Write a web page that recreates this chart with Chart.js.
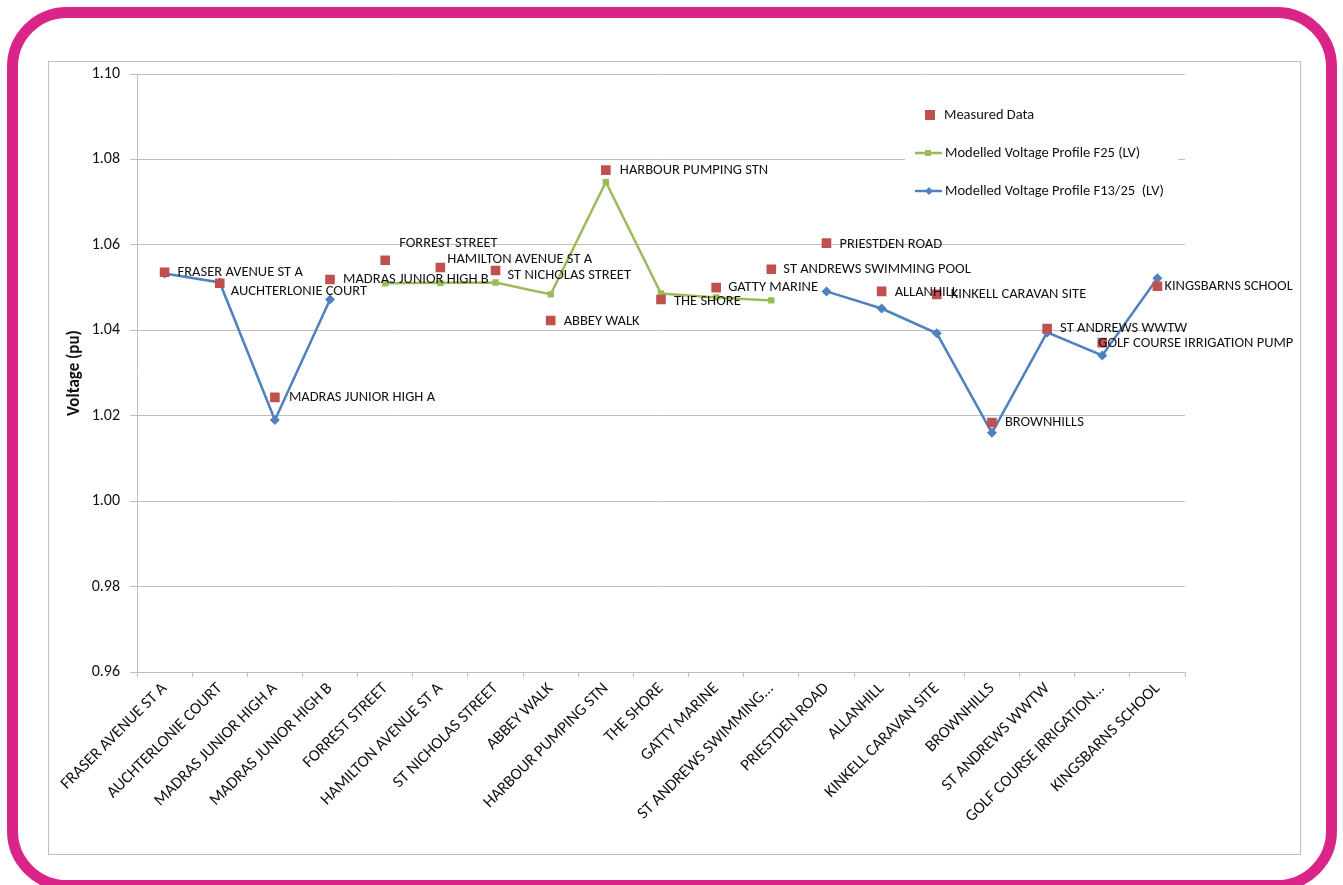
<!DOCTYPE html>
<html>
<head>
<meta charset="utf-8">
<script src="https://cdn.jsdelivr.net/npm/chart.js@4.4.1/dist/chart.umd.min.js"></script>
<style>
  html, body { margin: 0; padding: 0; background: #fff; }
  body { width: 1343px; height: 885px; position: relative; overflow: hidden; }
  #frame {
    position: absolute; left: 7px; top: 7px; width: 1308px; height: 862px;
    border: 11px solid #D9258A; border-radius: 60px;
  }
  #box {
    position: absolute; left: 48px; top: 61px; width: 1251px; height: 792px;
    border: 1px solid #BEBEBE;
  }
  #voltage-chart { position: absolute; left: 0; top: 0; }
</style>
</head>
<body>
<div id="frame"></div>
<div id="box"><canvas id="voltage-chart" width="1251" height="792"></canvas></div>
<script>
const sites = ["FRASER AVENUE ST A", "AUCHTERLONIE COURT", "MADRAS JUNIOR HIGH A", "MADRAS JUNIOR HIGH B",
  "FORREST STREET", "HAMILTON AVENUE ST A", "ST NICHOLAS STREET", "ABBEY WALK", "HARBOUR PUMPING STN",
  "THE SHORE", "GATTY MARINE", "ST ANDREWS SWIMMING POOL", "PRIESTDEN ROAD", "ALLANHILL",
  "KINKELL CARAVAN SITE", "BROWNHILLS", "ST ANDREWS WWTW", "GOLF COURSE IRRIGATION PUMP", "KINGSBARNS SCHOOL"];

// axis labels (excel cut the two long ones)
const tickLabels = ["FRASER AVENUE ST A", "AUCHTERLONIE COURT", "MADRAS JUNIOR HIGH A", "MADRAS JUNIOR HIGH B",
  "FORREST STREET", "HAMILTON AVENUE ST A", "ST NICHOLAS STREET", "ABBEY WALK", "HARBOUR PUMPING STN",
  "THE SHORE", "GATTY MARINE", "ST ANDREWS SWIMMING...", "PRIESTDEN ROAD", "ALLANHILL",
  "KINKELL CARAVAN SITE", "BROWNHILLS", "ST ANDREWS WWTW", "GOLF COURSE IRRIGATION...", "KINGSBARNS SCHOOL"];

const measured = [1.0536, 1.0510, 1.0243, 1.0519, 1.0564, 1.0547, 1.0540, 1.0423, 1.0775, 1.0472,
  1.0500, 1.0543, 1.0604, 1.0491, 1.0484, 1.0184, 1.0404, 1.0371, 1.0503];

const profileF25 = [null, null, null, null, 1.0510, 1.0511, 1.0512, 1.0484, 1.0747, 1.0486,
  1.0477, 1.0470, null, null, null, null, null, null, null];

const profileF13 = [1.0533, 1.0512, 1.0190, 1.0472, null, null, null, null, null, null,
  null, null, 1.0491, 1.0451, 1.0393, 1.0160, 1.0395, 1.0341, 1.0522];

const fontName = "Carlito, Lato, sans-serif";

// where each point label sits relative to its red square
const labelNudge = [[13, 0], [11, 8], [14, 0], [13, 0], [14, -17], [7, -8], [12, 5], [13, 1], [14, 0],
  [13, 2], [12, 0], [12, 0], [13, 1], [13, 1], [14, 0], [13, 0], [13, 0], [-4, 1], [7, 0]];

const pointNames = {
  id: "pointNames",
  afterDatasetsDraw(chart) {
    const ctx = chart.ctx;
    const meta = chart.getDatasetMeta(0);
    ctx.save();
    ctx.font = "14.5px " + fontName;
    ctx.fillStyle = "#111";
    ctx.textBaseline = "middle";
    ctx.textAlign = "left";
    meta.data.forEach((pt, i) => {
      ctx.fillText(sites[i], pt.x + labelNudge[i][0], pt.y + labelNudge[i][1]);
    });
    ctx.restore();
  }
};

const legendBox = {
  id: "legendBox",
  afterDraw(chart) {
    const ctx = chart.ctx;
    ctx.save();
    ctx.fillStyle = "#fff";
    ctx.fillRect(856, 36, 273, 114);
    ctx.font = "14.5px " + fontName;
    ctx.textBaseline = "middle";
    // measured
    ctx.fillStyle = "#C0504D";
    ctx.fillRect(876, 48, 10, 10);
    ctx.fillStyle = "#111";
    ctx.fillText("Measured Data", 895, 53);
    // F25
    ctx.strokeStyle = "#9BBB59";
    ctx.lineWidth = 2.5;
    ctx.beginPath(); ctx.moveTo(866, 91); ctx.lineTo(893, 91); ctx.stroke();
    ctx.fillStyle = "#9BBB59";
    ctx.fillRect(876, 88, 6, 6);
    ctx.fillStyle = "#111";
    ctx.fillText("Modelled Voltage Profile F25 (LV)", 896, 91);
    // F13/25
    ctx.strokeStyle = "#4F81BD";
    ctx.beginPath(); ctx.moveTo(866, 129); ctx.lineTo(893, 129); ctx.stroke();
    ctx.fillStyle = "#4F81BD";
    ctx.beginPath();
    ctx.moveTo(880, 125); ctx.lineTo(884, 129); ctx.lineTo(880, 133); ctx.lineTo(876, 129);
    ctx.closePath(); ctx.fill();
    ctx.fillStyle = "#111";
    ctx.fillText("Modelled Voltage Profile F13/25  (LV)", 896, 129);
    ctx.restore();
  }
};

const canvas = document.getElementById("voltage-chart");
new Chart(canvas.getContext("2d"), {
  type: "line",
  data: {
    labels: tickLabels,
    datasets: [
      {
        label: "Measured Data",
        data: measured,
        showLine: false,
        pointStyle: "rect",
        pointRadius: 6.8,
        backgroundColor: "#C0504D",
        borderColor: "#C0504D",
        borderWidth: 0
      },
      {
        label: "Modelled Voltage Profile F25 (LV)",
        data: profileF25,
        borderColor: "#9BBB59",
        backgroundColor: "#9BBB59",
        borderWidth: 2.5,
        pointStyle: "rect",
        pointRadius: 4.5,
        pointBorderWidth: 0,
        spanGaps: false
      },
      {
        label: "Modelled Voltage Profile F13/25  (LV)",
        data: profileF13,
        borderColor: "#4F81BD",
        backgroundColor: "#4F81BD",
        borderWidth: 2.5,
        pointStyle: "rectRot",
        pointRadius: 5,
        pointBorderWidth: 0,
        spanGaps: false
      }
    ]
  },
  options: {
    responsive: false,
    animation: false,
    layout: { padding: { left: 0, top: 12, right: 115, bottom: 0 } },
    plugins: {
      legend: { display: false },
      tooltip: { enabled: false }
    },
    scales: {
      x: {
        offset: true,
        afterFit: (s) => { s.height = 182; },
        grid: { offset: true, drawOnChartArea: false, tickLength: 5, color: "#BEBEBE" },
        border: { color: "#BEBEBE" },
        ticks: {
          autoSkip: false,
          maxRotation: 45,
          minRotation: 45,
          color: "#111",
          font: { family: fontName, size: 16.5 },
          padding: 2
        }
      },
      y: {
        min: 0.96,
        max: 1.10,
        afterFit: (s) => { s.width = 88; s.paddingTop = 0; s.paddingBottom = 0; },
        grid: { color: "#BEBEBE", tickLength: 7 },
        border: { color: "#BEBEBE" },
        title: {
          display: true,
          text: "Voltage (pu)",
          color: "#111",
          font: { family: fontName, size: 17, weight: "bold" },
          padding: { top: 16, bottom: 0 }
        },
        ticks: {
          stepSize: 0.02,
          color: "#111",
          font: { family: fontName, size: 16 },
          padding: 10,
          callback: (v) => v.toFixed(2)
        }
      }
    }
  },
  plugins: [pointNames, legendBox]
});
</script>
</body>
</html>
